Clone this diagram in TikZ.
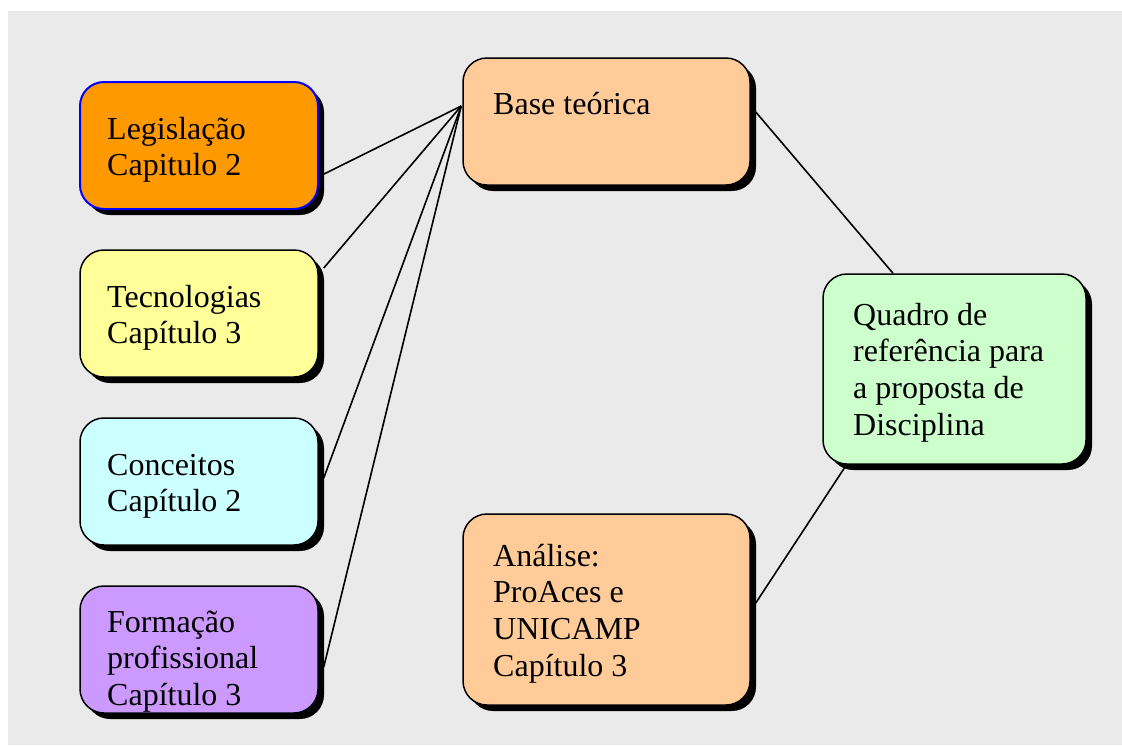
\documentclass[tikz,border=0pt]{standalone}
\usepackage{fontspec}
\setmainfont{Liberation Serif}
\usetikzlibrary{shadows}
\definecolor{bggray}{HTML}{EAEAEA}
\definecolor{legor}{HTML}{FF9900}
\definecolor{tecye}{HTML}{FFFF99}
\definecolor{concy}{HTML}{CCFFFF}
\definecolor{forpu}{HTML}{CC99FF}
\definecolor{peach}{HTML}{FFCC99}
\definecolor{quagr}{HTML}{CCFFCC}
\definecolor{legblue}{HTML}{0000FF}
\tikzset{
  box/.style={draw=black, line width=1.5pt, rounded corners=24pt, inner sep=0pt,
    drop shadow={shadow xshift=6pt, shadow yshift=-6pt, fill=black, opacity=1}},
  txt/.style={anchor=north west, inner sep=0pt, align=left,
    font=\fontsize{32}{36.8}\selectfont},
  link/.style={draw=black, line width=1.6pt}
}
\begin{document}
\begin{tikzpicture}[x=1pt, y=-1pt]
\useasboundingbox (0,0) rectangle (1122,745);
\fill[bggray] (8,11) rectangle (1122,745);
% boxes
\node[box, fill=legor, draw=legblue, line width=2pt, minimum width=238pt, minimum height=127pt] (leg) at (199,145.5) {};
\node[box, fill=tecye, minimum width=238pt, minimum height=127pt] (tec) at (199,313.5) {};
\node[box, fill=concy, minimum width=238pt, minimum height=127pt] (con) at (199,481.5) {};
\node[box, fill=forpu, minimum width=238pt, minimum height=127pt] (for) at (199,649.5) {};
\node[box, fill=peach, minimum width=287pt, minimum height=127pt] (base) at (606.5,121.5) {};
\node[box, fill=peach, minimum width=287pt, minimum height=191pt] (ana) at (606.5,609.5) {};
\node[box, fill=quagr, minimum width=263pt, minimum height=190pt] (qua) at (954.5,369) {};
% texts
\node[txt] (legt) at (107,113.2) {\strut Legislação\\Capitulo 2};
\node[txt] (tect) at (107,281.2) {\strut Tecnologias\\Capítulo 3};
\node[txt] (cont) at (107,449.2) {\strut Conceitos\\Capítulo 2};
\node[txt] (fort) at (107,606.2) {\strut Formação\\profissional\\Capítulo 3};
\node[txt] (baset) at (493,88.2) {\strut Base teórica};
\node[txt] (anat) at (493,540.2) {\strut Análise:\\ProAces e\\UNICAMP\\Capítulo 3};
\node[txt] (quat) at (853,299.2) {\strut Quadro de\\referência para\\a proposta de\\Disciplina};
% connectors
\draw[link] ([xshift=5pt,yshift=-28.5pt]leg.east) -- ([xshift=-1pt,yshift=15.5pt]base.west);
\draw[link] ([xshift=5pt,yshift=45.5pt]tec.east) -- ([xshift=-1pt,yshift=15.5pt]base.west);
\draw[link] ([xshift=5pt,yshift=3.5pt]con.east) -- ([xshift=-1pt,yshift=15.5pt]base.west);
\draw[link] ([xshift=5pt,yshift=-17.5pt]for.east) -- ([xshift=-1pt,yshift=15.5pt]base.west);
\draw[link] ([xshift=5pt,yshift=9.5pt]base.east) -- ([xshift=-61.5pt]qua.north);
\draw[link] ([xshift=-108pt]qua.south) -- ([xshift=5pt,yshift=6.5pt]ana.east);
\end{tikzpicture}
\end{document}
